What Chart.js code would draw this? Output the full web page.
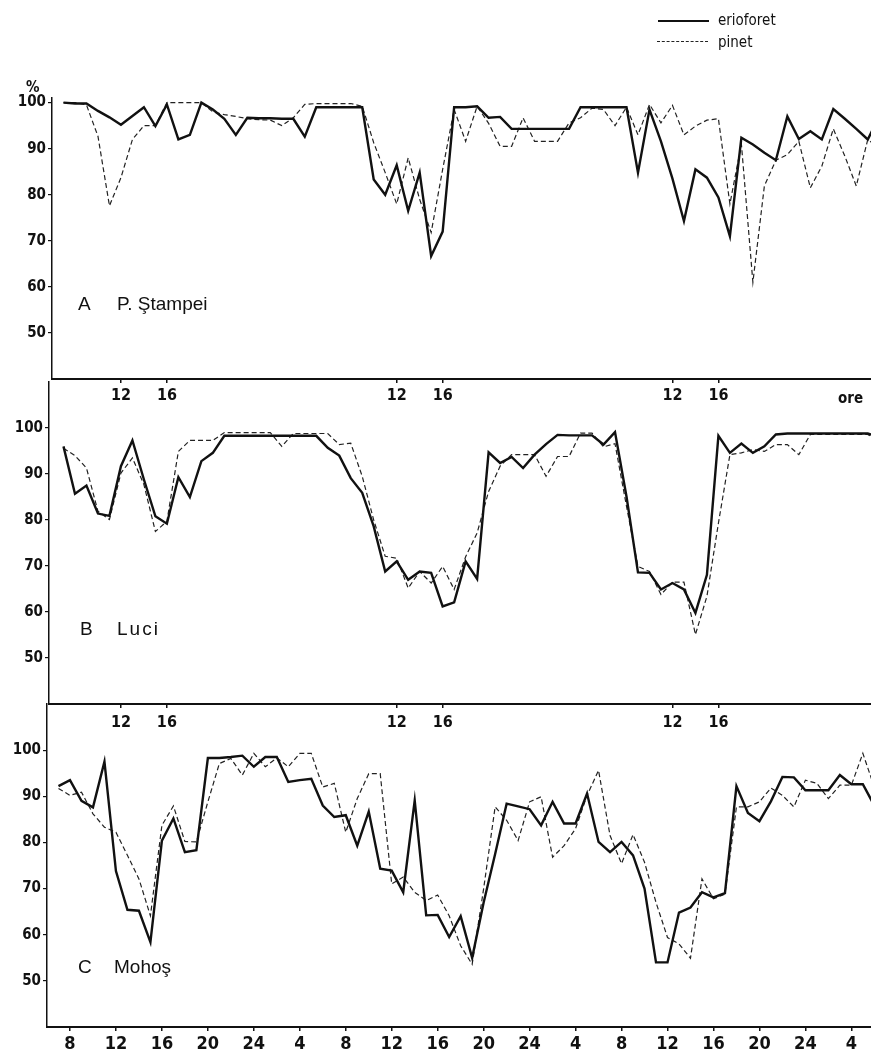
<!DOCTYPE html>
<html>
<head>
<meta charset="utf-8">
<script src="https://cdn.jsdelivr.net/npm/chart.js@4.4.1/dist/chart.umd.min.js"></script>
<style>
  body { margin: 0; background: #fff; }
  #page { position: relative; width: 871px; height: 1056px; overflow: hidden; background: #fff; }
  #page canvas { position: absolute; left: 0; top: 0; }
  .txt { position: absolute; color: #111; white-space: nowrap; transform: translateY(-50%);
         font-family: "Liberation Sans Narrow", "DejaVu Sans Condensed", "Liberation Sans", sans-serif; }
  .big { font-family: "Liberation Sans", "DejaVu Sans", sans-serif; font-size: 19px; }
  .leg { position: absolute; width: 51px; }
</style>
</head>
<body>
<div id="page">
  <canvas id="chartA" width="871" height="1056"></canvas>
  <canvas id="chartB" width="871" height="1056"></canvas>
  <canvas id="chartC" width="871" height="1056"></canvas>

  <!-- legend -->
  <div class="leg" style="left:658px; top:20px; border-top:2px solid #111;"></div>
  <div class="txt" style="left:718px; top:20px; font-size:15px;">erioforet</div>
  <div class="leg" style="left:657px; top:41px; border-top:1.5px dashed #222;"></div>
  <div class="txt" style="left:718px; top:42px; font-size:15px;">pinet</div>

  <div class="txt" style="left:26px; top:87px; font-size:15px; font-weight:bold;">%</div>
  <div class="txt" style="left:838px; top:398px; font-size:15px; font-weight:bold;">ore</div>

  <div class="txt big" style="left:78px; top:304px;">A</div>
  <div class="txt big" style="left:117px; top:304px;">P. Ştampei</div>
  <div class="txt big" style="left:80px; top:629px;">B</div>
  <div class="txt big" style="left:117px; top:629px; letter-spacing:2px;">Luci</div>
  <div class="txt big" style="left:78px; top:967px;">C</div>
  <div class="txt big" style="left:114px; top:967px;">Mohoş</div>
</div>

<script>
// hours since midnight of the first day (8 = 08:00, 28 = 04:00 next day ...)
const hours = [7, 8, 9, 10, 11, 12, 13, 14, 15, 16, 17, 18, 19, 20, 21, 22, 23, 24, 25, 26,
  27, 28, 29, 30, 31, 32, 33, 34, 35, 36, 37, 38, 39, 40, 41, 42, 43, 44, 45, 46,
  47, 48, 49, 50, 51, 52, 53, 54, 55, 56, 57, 58, 59, 60, 61, 62, 63, 64, 65, 66,
  67, 68, 69, 70, 71, 72, 73, 74, 75, 76, 77, 78];

// A  P. Ştampei
const erioforetA = [100, 99.8, 99.8, 98.2, 96.8, 95.2, 97.1, 99, 94.9, 99.6,
  92, 93, 100, 98.5, 96.5, 93, 96.7, 96.6, 96.6, 96.5,
  96.5, 92.6, 99, 99, 99, 99, 99, 83.3, 80, 86.4,
  76.5, 84.8, 66.7, 72, 99, 99, 99.2, 96.7, 96.9, 94.3,
  94.3, 94.3, 94.3, 94.3, 94.3, 99, 99, 99, 99, 99,
  84.8, 98.5, 91.6, 83.5, 74.3, 85.5, 83.7, 79.4, 71, 92.4,
  90.9, 89.1, 87.5, 97, 92.1, 93.8, 92, 98.6, 96.5, 94.3,
  92, 97];
const pinetA = [100, 100, 99.5, 92.7, 77.6, 83.7, 92, 95, 95, 100,
  100, 100, 100, 98, 97.4, 97, 96.5, 96.3, 96.2, 95,
  96.7, 99.6, 99.8, 99.8, 99.8, 99.8, 99.2, 91.3, 84.8, 78,
  88, 79, 71.8, 85.5, 98.5, 91.6, 99.2, 95.5, 90.5, 90.5,
  96.7, 91.6, 91.6, 91.6, 95.6, 96.7, 98.8, 98.5, 95, 99,
  93, 99.6, 95.6, 99.4, 93, 94.9, 96.2, 96.5, 78, 91,
  61, 81.9, 87.5, 88.7, 91.6, 81.5, 86.2, 94.3, 88.4, 81.9,
  92, 90];

// B  Luci
const erioforetB = [96, 85.7, 87.5, 81.4, 80.9, 91.7, 97.3, 88.8, 80.8, 79.2,
  89.3, 85, 92.8, 94.6, 98.3, 98.3, 98.3, 98.3, 98.3, 98.3,
  98.3, 98.3, 98.3, 95.7, 94, 89.1, 85.9, 78.6, 68.8, 71,
  67, 68.8, 68.5, 61.2, 62.1, 71, 67.2, 94.7, 92.4, 93.7,
  91.3, 94.2, 96.5, 98.5, 98.4, 98.4, 98.4, 96.4, 99.1, 85.1,
  68.6, 68.5, 64.9, 66.3, 64.9, 59.8, 68.1, 98.3, 94.6, 96.6,
  94.6, 96, 98.6, 98.8, 98.8, 98.8, 98.8, 98.8, 98.8, 98.8,
  98.8, 98];
const pinetB = [95.6, 94, 91.3, 81.9, 80.1, 90.2, 93.5, 87.7, 77.5, 79.7,
  94.9, 97.3, 97.3, 97.3, 99, 99, 99, 99, 99, 96,
  98.8, 98.8, 98.8, 98.8, 96.4, 96.7, 89.5, 80, 72.1, 71.7,
  65.2, 68.8, 66.3, 69.9, 64.9, 72, 77.2, 86.2, 91.7, 94.2,
  94.2, 94.2, 89.5, 93.8, 93.8, 98.9, 98.9, 95.9, 96.6, 83,
  69.9, 68.8, 63.8, 66.5, 66.5, 55.1, 63.4, 79.3, 94.2, 94.6,
  95.3, 94.9, 96.4, 96.4, 94.2, 98.6, 98.6, 98.6, 98.6, 98.6,
  98.6, 97];

// C  Mohoş
const erioforetC = [92.2, 93.5, 89, 87.6, 97.5, 73.8, 65.4, 65.2, 58.4, 80.4,
  85.2, 77.9, 78.3, 98.3, 98.3, 98.5, 98.8, 96.4, 98.5, 98.5,
  93.1, 93.5, 93.8, 88, 85.5, 85.9, 79.3, 86.7, 74.3, 73.9,
  69.2, 89.1, 64.2, 64.3, 59.5, 64, 55, 67, 77.5, 88.4,
  87.8, 87.2, 83.7, 88.8, 84.1, 84.1, 90.6, 80.1, 77.9, 80.1,
  77.2, 70, 54, 54, 64.8, 65.9, 69.2, 68.1, 69, 92.2,
  86.4, 84.6, 88.9, 94.2, 94.1, 91.3, 91.3, 91.3, 94.6, 92.6,
  92.6, 88];
const pinetC = [91.7, 90.2, 90.9, 86.2, 83.3, 82.2, 77.2, 72.1, 64.1, 83.7,
  87.9, 80.2, 80.1, 88.8, 97.1, 98.2, 94.6, 99.3, 96.4, 98.3,
  96.4, 99.3, 99.3, 92, 92.8, 82.2, 89.5, 94.9, 94.9, 71,
  72.5, 69.2, 67.4, 68.6, 64.1, 57.6, 53.6, 70, 87.7, 84.8,
  80.4, 88.8, 89.9, 76.8, 79.3, 83, 90.2, 95.6, 81.5, 75.4,
  81.7, 75.7, 67, 59.4, 58, 54.9, 72.1, 67.8, 68.8, 87.7,
  87.7, 88.8, 91.8, 90.2, 87.7, 93.5, 92.8, 89.5, 92.4, 92.4,
  99.3, 92];

// tick positions
const yTicks = [50, 60, 70, 80, 90, 100];
const xTicksTop = [12, 16, 36, 40, 60, 64];
const xTicksBottom = [8, 12, 16, 20, 24, 28, 32, 36, 40, 44, 48, 52, 56, 60, 64, 68, 72, 76];

const FONT = '"Liberation Sans Narrow", "DejaVu Sans Condensed", "Liberation Sans", sans-serif';
const INK = '#111';

function hourLabel(v) {
  let h = v % 24;
  return h === 0 ? '24' : String(h);
}

function toPoints(values) {
  return hours.map((h, i) => ({ x: h, y: values[i] }));
}

// one panel = one chart on its own canvas, all canvases stacked on the page
function makePanel(id, solid, dashed, box) {
  new Chart(document.getElementById(id), {
    type: 'line',
    data: {
      datasets: [
        { label: 'erioforet', data: toPoints(solid), borderColor: INK, borderWidth: 2.4,
          pointRadius: 0, tension: 0, fill: false },
        { label: 'pinet', data: toPoints(dashed), borderColor: '#222', borderWidth: 1.2,
          borderDash: [5, 3], pointRadius: 0, tension: 0, fill: false }
      ]
    },
    options: {
      responsive: false,
      animation: false,
      devicePixelRatio: 1,
      layout: { autoPadding: false, padding: { top: box.top, left: 0, right: 0, bottom: 0 } },
      plugins: { legend: { display: false }, tooltip: { enabled: false } },
      scales: {
        x: {
          type: 'linear', position: 'bottom', min: box.xMin, max: box.xMax,
          afterFit: function(s) { s.height = 1056 - box.bottom; },
          afterBuildTicks: function(s) { s.ticks = box.xTicks.map(v => ({ value: v })); },
          grid: { drawOnChartArea: false, drawTicks: true, tickLength: 4, color: INK, lineWidth: 1.5 },
          border: { display: true, color: INK, width: 2 },
          ticks: { autoSkip: false, maxRotation: 0, padding: box.xPad, color: INK,
                   font: { family: FONT, size: box.xFont, weight: 'bold' }, callback: hourLabel }
        },
        y: {
          min: 40, max: box.yMax,
          afterFit: function(s) { s.width = box.left; },
          afterBuildTicks: function(s) { s.ticks = yTicks.map(v => ({ value: v })); },
          grid: { drawOnChartArea: false, drawTicks: true, tickLength: 4, color: INK, lineWidth: 1.2 },
          border: { display: true, color: INK, width: 1.5 },
          ticks: { padding: 2, color: INK, font: { family: FONT, size: 15, weight: 'bold' } }
        }
      }
    }
  });
}

makePanel('chartA', erioforetA, pinetA,
  { left: 52, top: 98, bottom: 379, xMin: 6.0, xMax: 77.28, yMax: 101, xTicks: xTicksTop, xFont: 16, xPad: 3 });
makePanel('chartB', erioforetB, pinetB,
  { left: 49, top: 382, bottom: 704, xMin: 5.74, xMax: 77.28, yMax: 110, xTicks: xTicksTop, xFont: 16, xPad: 5 });
makePanel('chartC', erioforetC, pinetC,
  { left: 47, top: 704, bottom: 1027, xMin: 6.0, xMax: 77.71, yMax: 110, xTicks: xTicksBottom, xFont: 18, xPad: 3 });
</script>
</body>
</html>
